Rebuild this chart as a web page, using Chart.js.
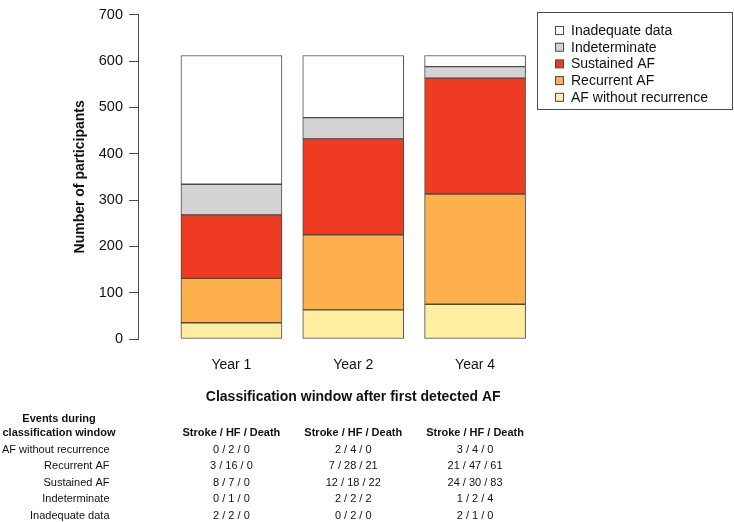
<!DOCTYPE html>
<html>
<head>
<meta charset="utf-8">
<script src="https://cdn.jsdelivr.net/npm/chart.js@4.4.1/dist/chart.umd.min.js"></script>
<style>
  html, body { margin: 0; padding: 0; background: #fff; }
  #wrap { width: 734px; height: 522px; }
</style>
</head>
<body>
<div id="wrap"><canvas id="chart" width="734" height="522"></canvas></div>
<script>
// Categories (classification window)
const yearLabels = ['Year 1', 'Year 2', 'Year 4'];

// Participants per class, bottom of the stack first
const afNoRecurrence = [35, 63, 75];
const recurrentAF = [96, 162, 238];
const sustainedAF = [137, 207, 250];
const indeterminate = [66, 46, 25];
const inadequateData = [278, 134, 24];

// Y axis ticks
const yTicks = [0, 100, 200, 300, 400, 500, 600, 700];

// Events table below the chart (Stroke / HF / Death), one row per class
const rowLabels = ['AF without recurrence', 'Recurrent AF', 'Sustained AF', 'Indeterminate', 'Inadequate data'];
const eventsYear1 = ['0 / 2 / 0', '3 / 16 / 0', '8 / 7 / 0', '0 / 1 / 0', '2 / 2 / 0'];
const eventsYear2 = ['2 / 4 / 0', '7 / 28 / 21', '12 / 18 / 22', '2 / 2 / 2', '0 / 2 / 0'];
const eventsYear4 = ['3 / 4 / 0', '21 / 47 / 61', '24 / 30 / 83', '1 / 2 / 4', '2 / 1 / 0'];

const FONT = '"Liberation Sans", Arial, Helvetica, sans-serif';
const EDGE = '#4a4a4a';

function series(values) {
  return values.map((v, i) => ({ x: i + 1, y: v }));
}

const datasets = [
  { label: 'AF without recurrence', data: series(afNoRecurrence), backgroundColor: '#FFEDA0' },
  { label: 'Recurrent AF', data: series(recurrentAF), backgroundColor: '#FDB04C' },
  { label: 'Sustained AF', data: series(sustainedAF), backgroundColor: '#EF3B22' },
  { label: 'Indeterminate', data: series(indeterminate), backgroundColor: '#D3D3D3' },
  { label: 'Inadequate data', data: series(inadequateData), backgroundColor: '#FFFFFF' }
];
datasets.forEach(ds => {
  ds.borderColor = EDGE;
  ds.borderWidth = 1;
  ds.borderSkipped = false;
  ds.barThickness = 101;
});

// legend box on the right, drawn like the R legend
const boxLegend = {
  id: 'boxLegend',
  afterDraw(chart) {
    const ctx = chart.ctx;
    ctx.save();
    ctx.strokeStyle = EDGE;
    ctx.lineWidth = 1;
    ctx.strokeRect(537.5, 12.5, 195, 97);
    ctx.font = '14px ' + FONT;
    ctx.textBaseline = 'middle';
    ctx.fillStyle = '#111';
    const items = chart.data.datasets.slice().reverse();
    items.forEach((ds, i) => {
      const y = 30.5 + i * 16.7;
      ctx.fillStyle = ds.backgroundColor;
      ctx.fillRect(555.5, y - 4, 8, 8);
      ctx.strokeRect(555.5, y - 4, 8, 8);
      ctx.fillStyle = '#111';
      ctx.fillText(ds.label, 571, y + 0.5);
    });
    ctx.restore();
  }
};

// title and events table under the x axis
const eventsTable = {
  id: 'eventsTable',
  afterDraw(chart) {
    const ctx = chart.ctx;
    const xs = chart.scales.x;
    const cols = [eventsYear1, eventsYear2, eventsYear4];
    ctx.save();
    ctx.fillStyle = '#111';
    ctx.textBaseline = 'middle';
    ctx.textAlign = 'center';

    ctx.font = 'bold 14px ' + FONT;
    ctx.fillText('Classification window after first detected AF', xs.getPixelForValue(2), 397);

    ctx.font = 'bold 11px ' + FONT;
    ctx.fillText('Events during', 59, 419);
    ctx.fillText('classification window', 59, 432.5);
    cols.forEach((c, j) => {
      ctx.fillText('Stroke / HF / Death', xs.getPixelForValue(j + 1), 432.5);
    });

    ctx.font = '11px ' + FONT;
    rowLabels.forEach((lab, i) => {
      const y = 450 + i * 16.4;
      ctx.textAlign = 'right';
      ctx.fillText(lab, 109.5, y);
      ctx.textAlign = 'center';
      cols.forEach((c, j) => {
        ctx.fillText(c[i], xs.getPixelForValue(j + 1), y);
      });
    });
    ctx.restore();
  }
};

new Chart(document.getElementById('chart'), {
  type: 'bar',
  data: { datasets: datasets },
  options: {
    responsive: false,
    animation: false,
    layout: { padding: { left: 72, right: 198, top: 5, bottom: 143 } },
    plugins: {
      legend: { display: false },
      tooltip: { enabled: false }
    },
    scales: {
      x: {
        type: 'linear',
        stacked: true,
        offset: false,
        min: 0.2332,
        max: 3.5,
        afterBuildTicks(scale) {
          scale.ticks = yearLabels.map((l, i) => ({ value: i + 1 }));
        },
        afterFit(scale) { scale.height = 40; },
        grid: { display: false, drawTicks: false },
        border: { display: false },
        ticks: {
          padding: 18,
          color: '#111',
          font: { family: FONT, size: 14 },
          callback: (v) => yearLabels[v - 1]
        }
      },
      y: {
        stacked: true,
        min: 0,
        max: 700,
        afterBuildTicks(scale) {
          scale.ticks = yTicks.map(v => ({ value: v }));
        },
        afterFit(scale) { scale.width = 66; },
        grid: { drawOnChartArea: false, drawTicks: true, tickLength: 9, color: EDGE },
        border: { display: true, color: EDGE, width: 1 },
        ticks: {
          padding: 6,
          color: '#111',
          font: { family: FONT, size: 14.5 }
        },
        title: {
          display: true,
          text: 'Number of participants',
          color: '#111',
          padding: 0,
          font: { family: FONT, size: 14, weight: 'bold' }
        }
      }
    }
  },
  plugins: [boxLegend, eventsTable]
});
</script>
</body>
</html>
